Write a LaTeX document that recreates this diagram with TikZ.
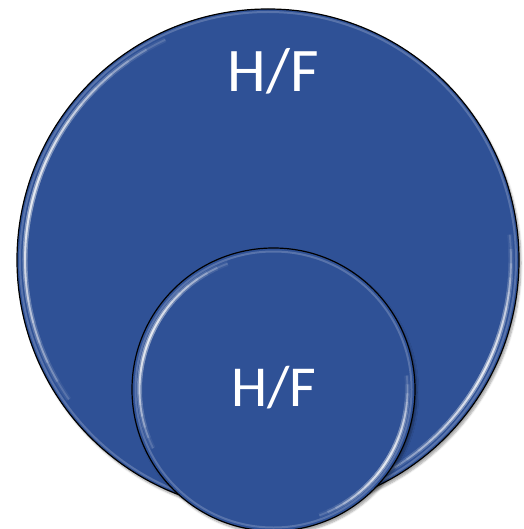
\documentclass[tikz,border=0pt]{standalone}
\usepackage{fontspec}
\setmainfont{Carlito}
\usetikzlibrary{shadows.blur}
\definecolor{discblue}{RGB}{47,81,150}
\tikzset{
  disc/.style={circle, draw=black, line width=1.2pt, fill=discblue, inner sep=0pt,
    blur shadow={shadow xshift=2pt, shadow yshift=-3pt, shadow opacity=35, shadow blur steps=6}},
  label/.style={text=white, inner sep=0pt, anchor=center},
  gloss/.style={white, line width=#1, line cap=butt}
}
\newcommand{\glossarc}[4]{% node, radius, middle angle, half span
  \foreach \k in {1,...,10}{%
    \pgfmathsetmacro\hs{#4*\k/10}%
    \draw[gloss=5pt, draw opacity=0.06] (#1.center) ++(#3-\hs:#2) arc[start angle=#3-\hs, end angle=#3+\hs, radius=#2];
    \draw[gloss=1.8pt, draw opacity=0.15] (#1.center) ++(#3-\hs:#2) arc[start angle=#3-\hs, end angle=#3+\hs, radius=#2];
  }%
}
\begin{document}
\begin{tikzpicture}[x=1pt,y=-1pt]
\useasboundingbox (0,0) rectangle (523,529);
\node[disc, minimum size=502pt] (big) at (268,260) {};
\draw[white, opacity=0.2, line width=2pt] (big.center) circle[radius=248pt];
\glossarc{big}{243pt}{165}{50}
\glossarc{big}{243pt}{-28}{34}
\node[label, font=\fontsize{62}{62}\selectfont] (t1) at (273,71) {H/F};
\node[disc, minimum size=283pt] (small) at (273.5,389.5) {};
\draw[white, opacity=0.2, line width=2pt] (small.center) circle[radius=138pt];
\glossarc{small}{134pt}{158}{48}
\glossarc{small}{134pt}{-32}{38}
\node[label, font=\fontsize{58}{58}\selectfont] (t2) at (274,388) {H/F};
\end{tikzpicture}
\end{document}
